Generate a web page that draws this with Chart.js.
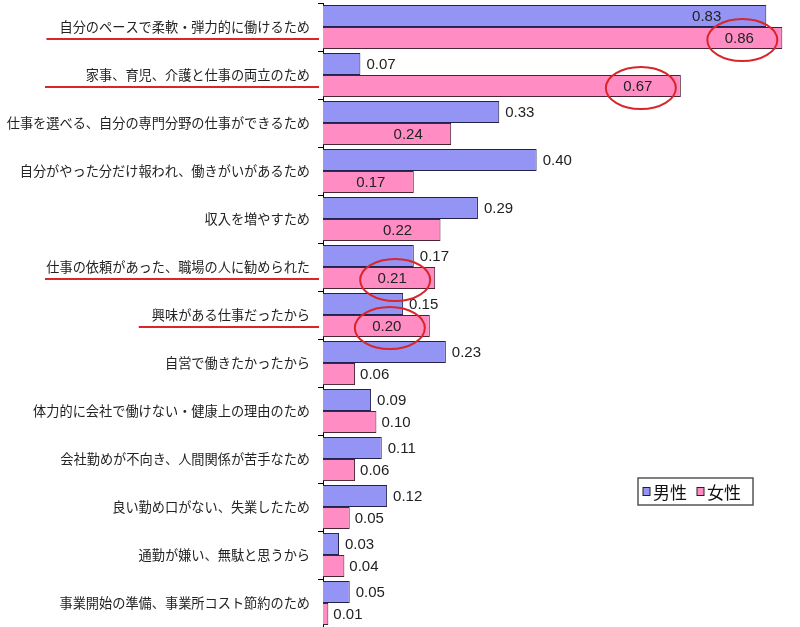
<!DOCTYPE html>
<html>
<head>
<meta charset="utf-8">
<script src="https://cdn.jsdelivr.net/npm/chart.js@4.4.1/dist/chart.umd.min.js"></script>
<style>
  html, body { margin: 0; padding: 0; background: #fff; }
  #wrap { width: 800px; height: 627px; }
</style>
</head>
<body>
<div id="wrap"><canvas id="myChart" width="800" height="627"></canvas></div>
<script>
const reasons = [
    "自分のペースで柔軟・弾力的に働けるため",
    "家事、育児、介護と仕事の両立のため",
    "仕事を選べる、自分の専門分野の仕事ができるため",
    "自分がやった分だけ報われ、働きがいがあるため",
    "収入を増やすため",
    "仕事の依頼があった、職場の人に勧められた",
    "興味がある仕事だったから",
    "自営で働きたかったから",
    "体力的に会社で働けない・健康上の理由のため",
    "会社勤めが不向き、人間関係が苦手なため",
    "良い勤め口がない、失業したため",
    "通勤が嫌い、無駄と思うから",
    "事業開始の準備、事業所コスト節約のため",
];
const male = [0.83, 0.07, 0.33, 0.40, 0.29, 0.17, 0.15, 0.23, 0.09, 0.11, 0.12, 0.03, 0.05];
const female = [0.86, 0.67, 0.24, 0.17, 0.22, 0.21, 0.20, 0.06, 0.10, 0.06, 0.05, 0.04, 0.01];
const seriesNames = ["男性", "女性"];

// red marks drawn on the picture by hand
const underlined = [0, 1, 5, 6];
const circled = [0, 1, 5, 6]; // female labels

const LABEL_FONT = '"Noto Sans CJK JP", "Noto Sans", sans-serif';
const NUM_FONT = '"Liberation Sans", Arial, sans-serif';

// value labels next to / inside bars
const valueLabels = {
    id: "valueLabels",
    afterDatasetsDraw(chart) {
        const ctx = chart.ctx;
        const area = chart.chartArea;
        ctx.save();
        ctx.font = "15px " + NUM_FONT;
        ctx.fillStyle = "#222";
        ctx.textBaseline = "middle";
        chart.data.datasets.forEach((ds, di) => {
            const meta = chart.getDatasetMeta(di);
            meta.data.forEach((bar, i) => {
                const txt = ds.data[i].toFixed(2);
                const w = ctx.measureText(txt).width;
                let x;
                if (di === 0) {
                    x = bar.x + 6;
                    if (x + w > area.right) x = bar.x - 45 - w;
                } else {
                    x = ds.data[i] >= 0.15 ? bar.x - 43 - w / 2 : bar.x + 5;
                }
                ctx.textAlign = "left";
                ctx.fillText(txt, x, bar.y + 1);
            });
        });
        ctx.restore();
    },
};

// red underlines and ellipses
const redMarks = {
    id: "redMarks",
    afterDraw(chart) {
        const ctx = chart.ctx;
        const yScale = chart.scales.y;
        ctx.save();
        ctx.strokeStyle = "#d9262b";
        ctx.lineWidth = 2;
        ctx.font = "13.2px " + LABEL_FONT;
        underlined.forEach((i) => {
            const y = yScale.getPixelForValue(i) + 12;
            const w = ctx.measureText(reasons[i]).width;
            const right = yScale.right - 8;
            const left = Math.max(45, right - w - 18 - (i === 1 ? 30 : 0));
            ctx.beginPath();
            ctx.moveTo(left, y);
            ctx.lineTo(right + 4, y);
            ctx.stroke();
        });
        const meta = chart.getDatasetMeta(1);
        circled.forEach((i) => {
            const bar = meta.data[i];
            const cx = bar.x - 40;
            const cy = bar.y + 2;
            ctx.beginPath();
            ctx.ellipse(cx, cy, 35, 21, 0, 0, Math.PI * 2);
            ctx.stroke();
        });
        ctx.restore();
    },
};

// boxed legend inside plot area
const boxLegend = {
    id: "boxLegend",
    afterDraw(chart) {
        const ctx = chart.ctx;
        const x0 = 638, y0 = 478, w = 115, h = 27;
        ctx.save();
        ctx.fillStyle = "#fff";
        ctx.fillRect(x0, y0, w, h);
        ctx.strokeStyle = "#555";
        ctx.lineWidth = 1.5;
        ctx.strokeRect(x0, y0, w, h);
        ctx.font = "17px " + LABEL_FONT;
        ctx.textBaseline = "middle";
        let x = x0 + 5;
        chart.data.datasets.forEach((ds) => {
            ctx.fillStyle = ds.backgroundColor;
            ctx.fillRect(x, y0 + h / 2 - 4, 7, 8);
            ctx.strokeStyle = "#222";
            ctx.lineWidth = 1;
            ctx.strokeRect(x, y0 + h / 2 - 4, 7, 8);
            ctx.fillStyle = "#111";
            ctx.fillText(ds.label, x + 10, y0 + h / 2 + 1);
            x += 10 + ctx.measureText(ds.label).width + 10;
        });
        ctx.restore();
    },
};

const data = {
    labels: reasons,
    datasets: [
        {
            label: seriesNames[0],
            data: male,
            backgroundColor: "#9494f4",
            borderColor: "#22224e",
            borderWidth: 1,
        },
        {
            label: seriesNames[1],
            data: female,
            backgroundColor: "#ff8cc3",
            borderColor: "#4a2236",
            borderWidth: 1,
        },
    ],
};

const config = {
    type: "bar",
    data: data,
    options: {
        indexAxis: "y",
        responsive: false,
        animation: false,
        layout: { padding: { top: 3, right: 7, bottom: 0, left: 0 } },
        categoryPercentage: 0.92,
        barPercentage: 1.0,
        scales: {
            x: { display: false, min: 0, max: 0.88 },
            y: {
                afterFit(scale) {
                    scale.width = 323;
                    scale.paddingTop = 0;
                    scale.paddingBottom = 0;
                },
                grid: { drawOnChartArea: false, tickLength: 5, color: "#000" },
                border: { color: "#000", width: 1 },
                ticks: {
                    padding: 8,
                    color: "#222",
                    font: { family: LABEL_FONT, size: 13.2 },
                    autoSkip: false,
                },
            },
        },
        plugins: {
            legend: { display: false },
            tooltip: { enabled: false },
        },
    },
    plugins: [valueLabels, redMarks, boxLegend],
};

new Chart(document.getElementById("myChart"), config);
</script>
</body>
</html>
